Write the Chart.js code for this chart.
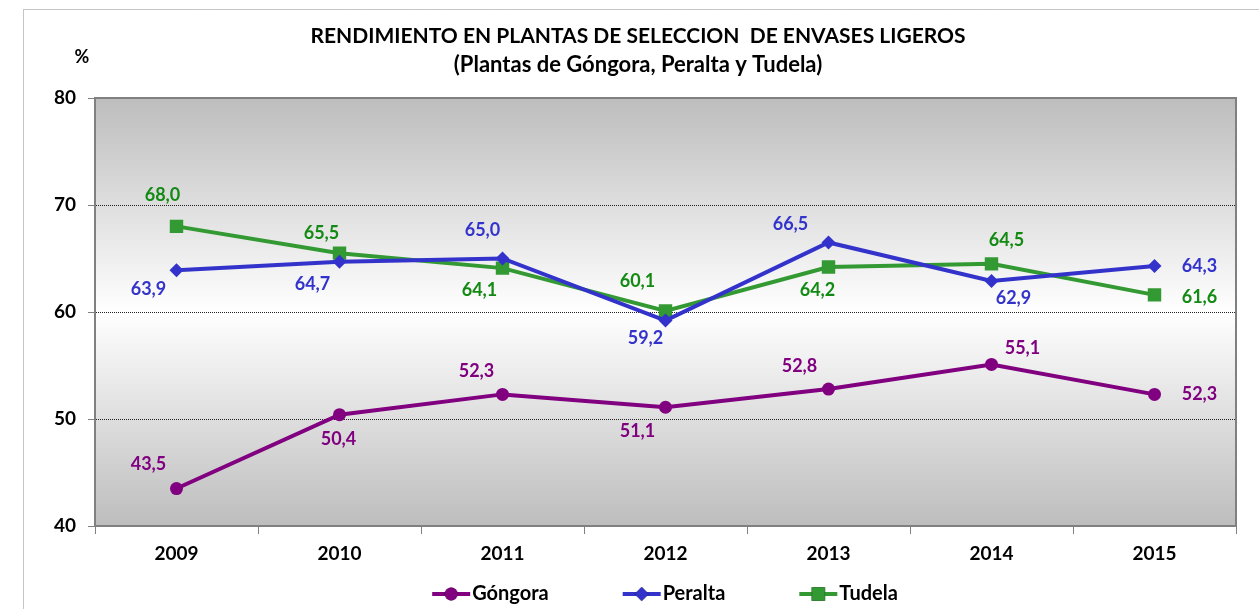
<!DOCTYPE html>
<html><head><meta charset="utf-8">
<script src="https://cdn.jsdelivr.net/npm/chart.js@4.4.0/dist/chart.umd.min.js"></script>
<style>html,body{margin:0;padding:0;background:#fff;}#wrap{position:relative;width:1259px;height:609px;}</style>
</head><body><div id="wrap"><canvas id="c" width="1259" height="609"></canvas></div>
<script>
const categories = ['2009','2010','2011','2012','2013','2014','2015'];
const gongora = [43.5, 50.4, 52.3, 51.1, 52.8, 55.1, 52.3];
const peralta = [63.9, 64.7, 65.0, 59.2, 66.5, 62.9, 64.3];
const tudela  = [68.0, 65.5, 64.1, 60.1, 64.2, 64.5, 61.6];
const yTicks = [40, 50, 60, 70, 80];
const seriesNames = ['Góngora', 'Peralta', 'Tudela'];
const titleText = 'RENDIMIENTO EN PLANTAS DE SELECCION  DE ENVASES LIGEROS';
const subtitleText = '(Plantas de Góngora, Peralta y Tudela)';
const yUnit = '%';

// label placement (layout, not data)
const labelOffsets = [
  [[-28,-24],[-1,24],[-26,-23],[-28,24],[-29,-23],[31,-16],[45,0]],
  [[-28,19],[-27,22],[-20,-28],[-20,18],[-38,-18],[22,17],[45,0]],
  [[-14,-31],[-18,-20],[-23,22],[-28,-30],[-11,23],[15,-24],[45,2]]
];
const lineColors = ['#800080', '#3333cc', '#339933'];
const labelColors = ['#800080', '#3333cc', '#138a13'];
const markerStyles = ['circle', 'rectRot', 'rect'];
const markerRadius = [6.5, 7, 9.5];

Chart.defaults.font.family = 'Lato';

const LEG_B = 104, LEG_HF = 10, LEG_L = 38, LEG_SHIFT = -10;
function legendIcon(i) {
  const W = LEG_B + 2 * LEG_HF, H = 16;
  const cv = document.createElement('canvas');
  cv.width = W; cv.height = H;
  const c = cv.getContext('2d');
  const x2 = W - 2, x1 = x2 - LEG_L;
  c.strokeStyle = lineColors[i]; c.lineWidth = 4;
  c.beginPath(); c.moveTo(x1, H/2); c.lineTo(x2, H/2); c.stroke();
  Chart.helpers.drawPoint(c, {pointStyle: markerStyles[i], radius: markerRadius[i], rotation: 0, borderWidth: 0}, (x1 + x2) / 2, H/2);
  c.fillStyle = lineColors[i]; c.fill();
  return cv;
}
const icons = [0,1,2].map(legendIcon);

const bgPlugin = {
  id: 'bg',
  afterLayout(chart) {
    if (chart.legend) { chart.legend.left += LEG_SHIFT; chart.legend.right += LEG_SHIFT; }
  },
  beforeDraw(chart) {
    const {ctx, chartArea: a} = chart;
    ctx.save();
    ctx.setLineDash([1,1]);
    ctx.strokeStyle = '#8a8a8a'; ctx.lineWidth = 1;
    ctx.strokeRect(23.5, 9.5, 1400, 800);
    ctx.setLineDash([]);
    const g = ctx.createLinearGradient(0, a.top, 0, a.bottom);
    g.addColorStop(0, '#bdbdbd');
    g.addColorStop(0.5, '#ffffff');
    g.addColorStop(1, '#bdbdbd');
    ctx.fillStyle = g;
    ctx.fillRect(a.left, a.top, a.right - a.left, a.bottom - a.top);
    ctx.restore();
  },
  beforeDatasetsDraw(chart) {
    const {ctx, chartArea: a} = chart;
    ctx.save();
    ctx.strokeStyle = '#808080'; ctx.lineWidth = 2;
    ctx.beginPath();
    ctx.moveTo(a.left, a.top); ctx.lineTo(a.right, a.top); ctx.lineTo(a.right, a.bottom);
    ctx.stroke();
    ctx.restore();
  },
  afterDatasetsDraw(chart) {
    const {ctx} = chart;
    ctx.save();
    ctx.font = 'bold 18px Lato';
    ctx.textAlign = 'center'; ctx.textBaseline = 'middle';
    chart.data.datasets.forEach((ds, di) => {
      const meta = chart.getDatasetMeta(di);
      meta.data.forEach((pt, i) => {
        const o = labelOffsets[di][i];
        ctx.fillStyle = labelColors[di];
        ctx.fillText(ds.data[i].toFixed(1).replace('.', ','), pt.x + o[0], pt.y + o[1]);
      });
    });
    ctx.fillStyle = '#000';
    ctx.fillText(yUnit, 82, 57);
    ctx.restore();
  }
};

new Chart(document.getElementById('c'), {
  type: 'line',
  data: {
    labels: categories,
    datasets: [gongora, peralta, tudela].map((d, i) => ({
      label: seriesNames[i],
      data: d,
      borderColor: lineColors[i],
      backgroundColor: lineColors[i],
      borderWidth: 4,
      pointStyle: markerStyles[i],
      pointRadius: markerRadius[i],
      pointHoverRadius: markerRadius[i],
      pointBorderWidth: 0,
      tension: 0
    }))
  },
  options: {
    responsive: false,
    animation: false,
    devicePixelRatio: 1,
    layout: {padding: {left: 40, right: 23, top: 0, bottom: -5}},
    plugins: {
      tooltip: {enabled: false},
      title: {
        display: true,
        text: titleText,
        color: '#000',
        font: {size: 21, weight: 'bold', lineHeight: 1.2},
        padding: {top: 23.4, bottom: 0}
      },
      subtitle: {
        display: true,
        text: subtitleText,
        color: '#000',
        font: {size: 22, weight: 'bold', lineHeight: 1.2},
        padding: {top: 3.2, bottom: 19.8}
      },
      legend: {
        position: 'bottom',
        labels: {
          usePointStyle: true,
          pointStyleWidth: LEG_B,
          padding: 0,
          color: '#000',
          font: {size: 20, weight: 'bold'},
          generateLabels(chart) {
            return chart.data.datasets.map((ds, i) => ({
              text: ds.label, pointStyle: icons[i], fillStyle: lineColors[i],
              strokeStyle: lineColors[i], lineWidth: 0, hidden: false, datasetIndex: i, fontColor: '#000'
            }));
          }
        }
      }
    },
    scales: {
      x: {
        offset: true,
        grid: {drawOnChartArea: false, drawTicks: true, tickLength: 8, tickColor: '#808080', offset: true},
        border: {color: '#808080', width: 2},
        ticks: {color: '#000', font: {size: 19, weight: 'bold'}, padding: 8},
        afterFit(s) { s.height = 58; }
      },
      y: {
        min: 40, max: 80,
        afterBuildTicks(s) { s.ticks = yTicks.map(v => ({value: v})); },
        grid: {
          color: c => (c.tick && c.tick.value > 40 && c.tick.value < 80) ? '#222' : 'rgba(0,0,0,0)',
          lineWidth: 1,
          tickBorderDash: [],
          tickColor: '#808080',
          tickLength: 7
        },
        border: {color: '#808080', width: 2, dash: [1, 1]},
        ticks: {color: '#000', font: {size: 19, weight: 'bold'}, padding: 12},
        afterFit(s) { s.width = 55; }
      }
    }
  },
  plugins: [bgPlugin]
});
</script></body></html>
